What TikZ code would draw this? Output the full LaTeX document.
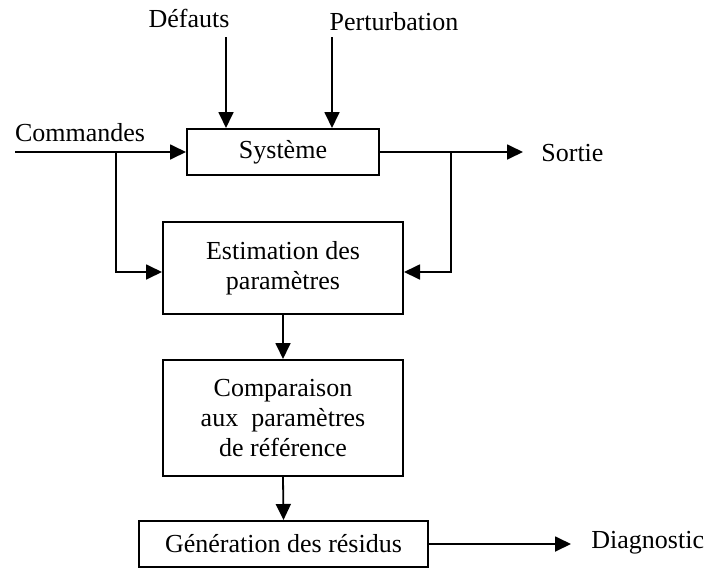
\documentclass[tikz,border=0pt]{standalone}
\usepackage{fontspec}
\setmainfont{Liberation Serif}
\usetikzlibrary{arrows.meta}

\begin{document}
\begin{tikzpicture}[
  x=0.5pt, y=-0.5pt,
  every node/.style={font=\fontsize{13}{15}\selectfont, inner sep=0pt},
  block/.style={draw, line width=1pt, align=center},
  flow/.style={line width=0.9pt, -{Triangle[length=8pt,width=7.5pt]}},
  wire/.style={line width=0.9pt}
]
\useasboundingbox (0,0) rectangle (707,568);

% blocks
\node[block, minimum width=96pt, minimum height=23pt] (sys) at (283,152) {\raisebox{-1.2pt}{Système}};
\node[block, minimum width=120pt, minimum height=46pt] (est) at (283,268) {Estimation des\\paramètres};
\node[block, minimum width=120pt, minimum height=58pt] (comp) at (283,418) {Comparaison\\aux~ paramètres\\de référence};
\node[block, minimum width=144.5pt, minimum height=23pt] (gen) at (283.5,544) {\raisebox{-1pt}{Génération des résidus}};

% labels
\node (def) at (189,18) {Défauts};
\node (pert) at (394,22) {Perturbation};
\node (cmd) at (80,133) {Commandes};
\node[anchor=west] (out) at (541,153) {Sortie};
\node[anchor=west] (diag) at (591,543) {Diagnostic};

% free ends and branch points
\coordinate (d0) at (226,37);
\coordinate (p0) at (332,37);
\coordinate (c0) at (15,152);
\coordinate (s1) at (523,152);
\coordinate (g1) at (571,544);
\coordinate (bl) at (116,152);
\coordinate (br) at (451,152);

% connectors
\draw[flow] (d0) -- (d0 |- sys.north);
\draw[flow] (p0) -- (p0 |- sys.north);
\draw[flow] (c0) -- (sys.west);
\draw[flow] (sys.east) -- (s1);
\draw[flow] (bl) |- ([yshift=-2pt]est.west);
\draw[flow] (br) |- ([yshift=-2pt]est.east);
\draw[flow] (est.south) -- (comp.north);
\draw[flow] (comp.south) -- (gen.north);
\draw[flow] (gen.east) -- (g1);
\end{tikzpicture}
\end{document}
